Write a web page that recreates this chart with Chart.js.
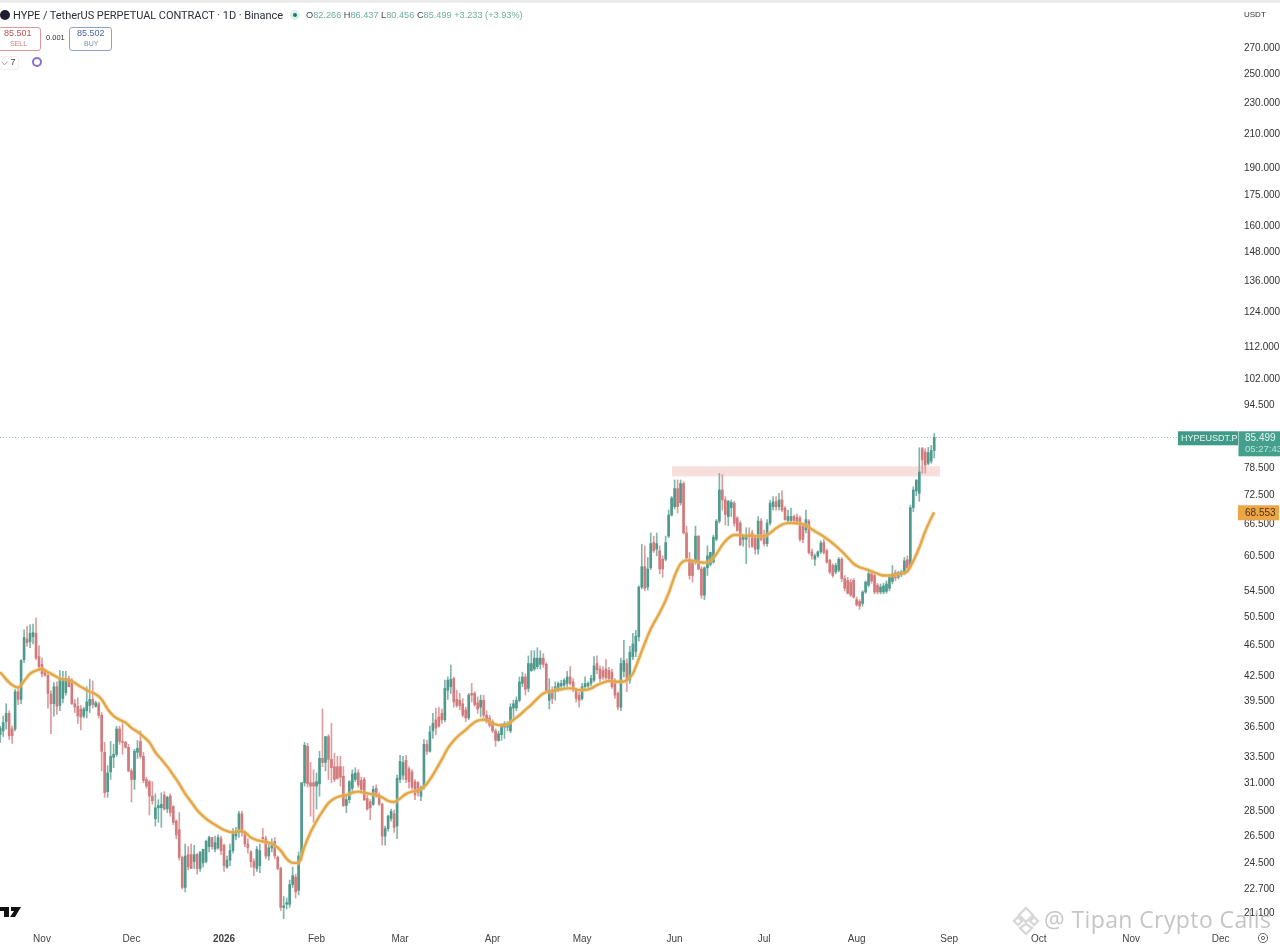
<!DOCTYPE html>
<html><head><meta charset="utf-8">
<script src="https://cdn.jsdelivr.net/npm/chart.js@4"></script>
<style>
html,body{margin:0;padding:0;background:#fff;overflow:hidden}
#wrap{position:relative;width:1280px;height:945px;overflow:hidden;font-family:"Liberation Sans",Arial,sans-serif}
canvas{position:absolute;left:0;top:0}
.t{position:absolute;white-space:nowrap;line-height:1}
.box{position:absolute;background:#fff;border-radius:3px;box-sizing:border-box}
</style></head><body>
<div id="wrap">
<canvas id="c" width="1280" height="945"></canvas>
<div style="position:absolute;left:0;top:0;width:1280px;height:3px;background:#ececec"></div>
<div style="position:absolute;left:0;top:10px;width:10px;height:10px;border-radius:50%;background:#1c2030"></div>
<div class="t" style="left:13px;top:9.5px;font-family:Roboto;font-size:11px;color:#2a2e39;letter-spacing:-.06px" id="title">HYPE / TetherUS PERPETUAL CONTRACT · 1D · Binance</div>
<div style="position:absolute;left:290px;top:10px;width:10px;height:10px;border-radius:50%;background:#dff1ec"></div>
<div style="position:absolute;left:293px;top:13px;width:4px;height:4px;border-radius:50%;background:#1f7a68"></div>
<div class="t" style="left:306px;top:10.5px;font-size:9.2px;color:#6fae9f"><span style="color:#3a4a50">O</span>82.266 <span style="color:#3a4a50">H</span>86.437 <span style="color:#3a4a50">L</span>80.456 <span style="color:#3a4a50">C</span>85.499 +3.233 (+3.93%)</div>
<div class="box" style="left:-2px;top:27px;width:43px;height:24px;border:1px solid #dc9a9a"></div>
<div class="t" style="left:4px;top:29px;font-size:9px;color:#b8504f">85.501</div>
<div class="t" style="left:10px;top:40px;font-size:7px;color:#c67b7a">SELL</div>
<div class="t" style="left:46px;top:34px;font-size:7.5px;color:#333">0.001</div>
<div class="box" style="left:69px;top:27px;width:43px;height:24px;border:1px solid #8ea3c9"></div>
<div class="t" style="left:77px;top:29px;font-size:9px;color:#4a64a0">85.502</div>
<div class="t" style="left:84px;top:40px;font-size:7px;color:#7e8fb5">BUY</div>
<div class="box" style="left:-2px;top:56px;width:21px;height:14px;border:1px solid #eeeeee"></div>
<div class="t" style="left:1px;top:58px;font-size:9px;color:#444">⌵ 7</div>
<div style="position:absolute;left:32px;top:57px;width:6px;height:6px;border:2px solid #8a6fd0;border-radius:50%"></div>
<div class="t" style="left:1244px;top:11px;font-size:8px;color:#333">USDT</div>
<svg style="position:absolute;left:0;top:905px" width="22" height="14"><path d="M0 2H9V12H4V6H0Z" fill="#111"/><path d="M11 2H21L15 12H10L14 6H11Z" fill="#111"/></svg>
<svg style="position:absolute;left:1011px;top:906px" width="30" height="30" fill="none" stroke="#d8d8d8" stroke-width="2.4"><path d="M15 2L22 9L15 16L8 9Z"/><path d="M7 11L11 15L7 19L3 15Z"/><path d="M23 11L27 15L23 19L19 15Z"/><path d="M15 18L21 22L15 28L9 22Z"/></svg>
<div class="t" style="left:1044px;top:908px;font-family:'Open Sans',sans-serif;font-size:23px;color:rgba(140,140,140,.5);letter-spacing:.4px">@ Tipan Crypto Calls</div>
<svg style="position:absolute;left:1257px;top:932px" width="12" height="12" fill="none" stroke="#666"><circle cx="6" cy="6" r="4.6"/><circle cx="6" cy="6" r="1.6"/></svg>
</div>
<script>
const yTickValues=[270,250,230,210,190,175,160,148,136,124,112,102,94.5,78.5,72.5,66.5,60.5,54.5,50.5,46.5,42.5,39.5,36.5,33.5,31,28.5,26.5,24.5,22.7,21.1];
const monthDays=[14,44,75,106,134,165,195,226,256,287,318,348,379,409];
const monthLabels=["Nov","Dec","2026","Feb","Mar","Apr","May","Jun","Jul","Aug","Sep","Oct","Nov","Dec"];
const opens=[
35.6,36.0,37.0,37.9,36.2,36.2,40.4,39.5,44.4,47.2,
46.8,47.5,48.0,44.8,43.8,43.0,42.4,40.1,39.0,41.0,
38.8,39.6,40.3,42.0,41.8,39.0,38.7,38.4,37.6,38.2,
38.8,39.5,38.7,39.0,37.7,33.8,30.1,31.9,33.3,33.6,
36.2,34.9,34.8,34.3,32.0,31.2,33.8,34.9,33.4,31.2,
31.0,29.7,27.8,28.7,28.7,29.8,28.6,29.7,28.8,27.6,
26.9,24.8,22.7,25.0,25.0,24.5,25.0,24.0,24.4,24.5,
25.6,26.3,25.4,25.5,26.2,25.7,24.1,24.6,25.3,26.4,
26.7,28.2,26.7,25.8,25.2,24.5,24.0,24.2,26.3,26.2,
24.9,25.5,26.0,24.8,24.0,21.4,21.6,21.6,22.9,23.4,
22.5,24.9,30.9,34.4,30.9,30.9,30.6,30.8,33.2,32.8,
35.4,33.1,32.4,32.4,32.4,31.5,28.9,29.4,30.4,31.2,
31.8,31.1,31.2,29.5,29.2,29.0,30.4,29.8,29.0,26.4,
27.0,27.8,28.2,27.2,31.2,31.6,33.0,32.2,31.9,31.0,
30.9,29.7,30.5,34.6,33.9,36.0,37.2,37.5,37.9,37.2,
40.6,41.0,42.0,39.5,39.4,39.0,38.3,37.4,40.2,40.2,
39.1,38.6,39.4,37.7,37.4,37.0,36.0,35.0,35.6,36.4,
36.4,36.0,38.5,38.5,39.4,41.4,42.2,40.8,43.0,43.2,
43.5,43.8,44.6,43.8,39.4,40.6,40.4,40.8,41.1,41.2,
41.4,42.2,41.6,40.6,40.0,39.6,41.0,41.1,41.4,41.8,
43.9,43.2,43.0,43.2,43.0,42.8,41.8,40.2,38.6,42.9,
43.9,41.8,44.8,45.5,47.5,55.0,58.4,55.0,58.2,62.7,
61.5,61.2,59.7,59.7,63.9,68.0,69.7,73.5,70.5,74.6,
64.5,59.7,59.2,59.2,63.9,58.0,53.7,58.2,58.8,59.2,
63.3,66.8,73.2,71.1,67.7,69.5,70.4,67.4,66.4,63.3,
63.3,64.1,64.5,63.6,61.5,66.8,64.1,62.5,66.4,69.7,
70.7,69.7,71.1,69.4,66.9,66.9,67.7,67.5,67.4,65.8,
65.1,66.8,61.0,59.7,60.3,61.0,62.7,61.2,59.5,58.6,
57.5,57.8,59.7,56.4,56.1,55.8,56.1,53.0,52.7,52.4,
54.2,55.3,57.2,56.9,55.3,54.2,54.2,54.3,54.8,55.9,
57.4,56.6,57.0,57.2,59.6,58.5,69.5,73.0,72.5,82.7,
81.9,79.2,79.7,82.266];
const highs=[
36.5,37.6,39.0,38.2,36.5,40.7,41.0,44.4,48.5,49.0,
49.2,49.3,50.2,46.3,44.6,43.2,42.8,40.5,41.5,41.6,
43.0,42.9,42.9,42.3,42.0,39.5,39.7,38.8,38.6,41.0,
41.9,41.7,39.3,39.2,38.0,34.8,32.5,34.9,34.6,36.5,
36.5,36.9,34.9,34.6,32.2,34.1,35.0,36.0,33.8,31.4,
31.1,31.0,29.9,29.4,30.0,30.1,29.7,29.9,28.9,27.7,
28.3,24.9,25.8,25.6,25.8,25.7,25.1,25.2,25.4,26.1,
26.4,26.3,26.4,26.5,26.4,25.8,24.9,25.8,27.0,27.1,
28.4,28.4,26.8,26.2,25.3,24.7,25.6,25.8,27.0,26.4,
25.8,26.2,26.3,24.9,24.1,22.1,22.0,23.2,24.1,23.6,
25.2,30.9,34.8,34.7,32.8,32.1,31.8,33.9,38.4,35.4,
35.6,36.8,33.7,33.4,33.4,32.4,29.7,31.1,32.1,32.3,
32.1,31.4,31.4,29.8,29.4,30.6,30.7,30.0,29.1,27.2,
28.1,28.6,28.5,31.6,33.5,33.4,33.5,32.4,32.1,31.2,
31.0,30.6,35.1,35.0,36.5,37.9,38.5,38.6,38.4,41.8,
42.2,43.7,42.2,40.6,40.2,39.6,38.6,40.2,41.4,40.4,
39.8,40.0,40.0,38.2,37.7,37.2,36.2,36.0,36.8,37.0,
37.0,39.0,39.4,39.8,42.2,42.8,42.6,44.9,45.6,45.6,
46.0,45.6,45.2,44.0,42.0,41.0,41.6,41.6,41.8,42.0,
42.9,43.5,42.0,40.8,40.4,41.4,42.2,41.6,42.4,44.8,
44.9,43.6,43.5,44.4,43.4,43.2,42.0,40.4,44.6,47.0,
44.5,46.2,48.0,48.4,55.2,62.4,62.1,60.0,64.5,63.9,
64.5,62.1,60.3,63.9,69.0,71.8,75.4,75.4,75.4,75.0,
65.8,60.9,59.7,65.8,64.0,58.4,58.4,62.1,60.9,64.1,
67.1,76.9,76.6,71.8,71.0,71.1,70.8,67.7,66.8,64.1,
65.5,65.5,65.0,64.0,67.7,67.3,65.0,67.1,71.0,71.8,
71.8,72.5,73.0,69.7,69.0,69.4,68.0,68.2,67.8,66.4,
69.0,67.1,61.5,60.6,61.2,63.0,63.3,61.5,59.7,58.9,
59.0,60.0,60.0,56.9,56.6,56.3,56.4,53.4,53.0,54.4,
56.0,58.0,57.6,57.2,55.6,55.5,55.6,56.0,57.0,58.6,
57.8,57.6,57.8,60.0,60.3,70.0,73.9,75.4,82.9,83.0,
82.7,83.0,83.5,86.437];
const lows=[
34.8,35.4,36.2,35.1,34.7,36.0,38.9,39.0,44.0,46.2,
46.0,46.5,44.4,43.0,42.2,42.3,38.5,35.7,37.6,37.8,
38.2,39.1,40.0,41.0,38.9,38.0,36.8,36.1,37.4,37.4,
38.0,38.5,38.6,37.4,32.0,29.6,29.6,31.2,32.3,33.4,
34.6,33.6,34.2,31.9,29.2,30.3,33.2,33.2,30.9,30.4,
28.1,29.0,27.2,27.5,27.1,28.5,28.3,28.0,27.3,26.2,
24.6,22.6,22.4,23.9,24.0,24.0,23.6,23.8,24.1,24.4,
25.2,25.4,25.2,25.4,25.0,23.8,24.0,24.2,25.1,26.1,
26.3,26.4,25.6,25.1,24.1,23.5,23.8,23.7,25.9,24.7,
24.6,25.2,24.7,23.9,21.2,20.7,21.3,21.4,22.7,22.0,
22.2,24.6,30.6,30.5,28.0,27.5,28.6,29.7,32.4,32.0,
31.2,30.9,31.0,31.2,30.6,28.8,28.3,29.1,30.0,31.0,
30.5,30.0,29.3,28.5,27.7,28.9,29.6,28.9,25.7,25.7,
26.8,27.6,26.7,26.2,30.9,31.2,30.9,30.4,30.3,29.4,
29.7,29.3,30.3,33.6,33.8,35.2,35.6,36.4,36.8,37.0,
39.5,40.2,38.6,38.6,38.3,37.5,37.0,37.2,39.2,38.7,
37.9,37.5,37.4,36.8,36.4,35.8,34.4,34.9,35.0,35.2,
36.0,35.8,37.4,38.2,39.2,41.0,40.0,40.4,42.9,43.0,
43.2,43.2,43.4,40.5,38.4,39.0,39.4,40.4,40.6,40.9,
41.0,41.2,40.4,39.2,38.6,39.4,40.6,40.8,41.1,41.6,
42.6,41.6,41.9,41.9,41.6,40.8,39.6,38.3,38.2,42.2,
40.4,41.4,44.4,44.8,46.9,54.7,54.4,54.5,57.9,60.9,
60.3,57.2,56.6,59.4,63.6,67.8,69.2,68.4,70.0,64.3,
59.7,56.3,55.8,58.8,57.9,53.2,53.0,56.9,58.5,59.0,
63.0,66.4,69.0,66.0,65.9,67.7,65.8,64.8,62.1,62.0,
58.9,61.8,61.8,60.6,60.6,63.0,62.1,62.0,66.0,69.0,
69.0,69.0,68.6,67.0,66.5,66.4,66.2,66.2,62.9,62.7,
64.5,60.6,59.7,58.6,60.0,60.7,60.6,59.0,57.2,56.6,
57.2,57.5,55.9,54.4,53.9,53.5,53.2,52.0,51.5,52.0,
54.0,55.0,55.6,53.9,53.9,53.9,53.9,54.0,54.4,55.5,
56.0,56.3,56.7,57.0,57.5,58.2,68.7,72.0,70.8,76.9,
76.9,78.8,79.2,80.456];
const closes=[
36.3,36.9,37.9,35.5,35.5,40.4,39.5,44.3,47.4,46.7,
48.0,48.1,44.6,43.5,42.6,42.4,40.2,39.0,41.0,38.7,
42.0,41.9,42.0,41.0,39.0,38.6,37.6,37.5,38.4,39.2,
39.5,38.9,39.1,37.7,33.9,30.0,31.8,33.4,33.6,36.2,
34.9,34.8,34.3,32.0,31.2,33.9,34.2,33.4,31.1,30.6,
29.7,29.3,28.7,28.9,29.0,28.6,29.6,28.3,27.5,26.5,
24.8,22.7,24.9,24.1,24.0,25.0,24.0,25.2,25.4,26.0,
26.3,25.6,25.9,26.3,25.3,24.2,24.6,25.3,26.7,26.7,
28.2,26.7,25.8,25.5,24.5,24.1,25.4,25.3,26.2,24.9,
25.5,25.7,24.9,24.0,21.4,21.5,21.7,22.9,23.5,22.4,
24.9,30.9,34.5,30.8,30.6,30.6,31.0,33.2,32.8,35.4,
33.1,32.3,31.2,31.3,31.4,28.9,29.4,31.0,31.7,31.8,
30.7,30.3,29.4,28.6,28.7,30.3,29.8,29.0,26.4,27.0,
28.0,28.4,27.1,31.3,32.9,32.8,31.2,31.0,30.5,29.8,
30.0,30.5,34.6,33.9,35.9,36.8,36.3,36.5,37.2,40.8,
41.8,41.9,39.2,38.8,38.8,37.7,37.4,40.0,40.0,38.9,
38.4,39.4,37.7,37.0,36.6,36.0,35.0,35.7,36.5,36.8,
36.8,38.6,39.0,39.4,41.6,42.2,40.7,43.9,43.9,44.6,
44.6,44.6,43.8,40.5,40.6,39.6,41.0,41.4,41.4,41.8,
42.2,41.4,40.6,39.6,39.4,41.0,41.4,41.4,42.0,43.6,
43.1,42.0,42.2,42.1,42.0,41.0,40.0,38.6,43.9,44.3,
41.8,45.4,46.5,47.6,55.0,58.4,54.8,58.0,62.5,61.2,
62.5,58.0,58.0,62.7,68.0,71.5,73.5,69.7,74.6,64.5,
59.9,56.9,56.9,63.9,58.0,53.7,58.2,60.3,60.9,63.7,
66.8,73.2,71.1,68.1,70.8,70.6,66.4,65.0,62.3,63.9,
64.1,63.8,62.0,61.5,66.8,63.3,62.5,66.4,70.4,70.7,
69.7,71.1,69.0,67.1,67.7,67.7,66.9,66.7,63.3,63.3,
67.1,60.9,60.3,60.3,61.0,62.6,60.9,59.2,57.5,56.9,
58.6,59.7,56.4,54.8,54.0,53.7,53.4,52.2,52.0,54.2,
55.8,57.2,56.0,54.2,54.2,55.0,55.2,55.5,56.6,57.2,
56.5,57.4,57.5,59.4,58.2,69.5,73.2,75.4,77.2,80.0,
78.8,81.7,82.266,85.499];
// moving average read at every second candle, plus the last candle
const movingAverage=[
42.8,41.9,41.2,40.9,41.7,42.6,43,43.2,42.8,42.4,
42,41.9,41.7,41.2,40.8,40.4,40.1,39.5,38.4,37.6,
37.2,36.9,36.3,35.9,35.4,34.8,33.8,33.1,32.4,31.6,
30.8,29.9,29.2,28.5,28,27.6,27.3,27,26.8,26.7,
26.8,26.7,26.3,26.1,26,25.9,25.7,25.3,24.7,24.4,
24.4,25.6,26.7,27.6,28.4,29.1,29.5,29.7,29.8,30,
30.1,30,29.9,29.8,29.6,29.3,29.2,29.5,29.9,30.1,
30.2,30.5,31.2,32.1,33.1,34.2,35,35.6,36.1,36.7,
37.1,37.2,37,36.7,36.6,36.7,37.2,37.7,38.3,38.9,
39.6,40.2,40.4,40.6,40.7,40.8,40.8,40.6,40.6,40.8,
41.2,41.5,41.7,41.6,41.6,41.8,42.6,44.5,46.6,48.6,
50.2,51.9,54,56.8,58.9,59.5,59.4,59.2,59.1,59.4,
60.6,62.3,63.5,64.1,64.1,64,64,63.9,63.9,64.5,
65.4,66.1,66.4,66.4,66.3,66,65.2,64.5,63.8,63,
62.1,61.1,60,58.9,58.3,58,57.6,57.2,56.9,56.9,
57,57.2,57.6,59.4,61.8,64.8,67.4,68.553];
const lastPrice=85.499, maLast=68.553;
const zoneStart=225.1, zoneEnd=314.9, zoneTop=78.5, zoneBottom=76.2;
const xMin=-0.07, xMax=414.8, yMin=20.32, yMax=310.1;

const green='#4f9a8c', red='#d27a7c', greenWick='#7fb5aa', redWick='#dd9c9d';
const isUp=i=>closes[i]>=opens[i];
const wickData=closes.map((_,i)=>({x:i,y:[lows[i],highs[i]]}));
const bodyData=closes.map((_,i)=>({x:i,y:[Math.min(opens[i],closes[i]),Math.max(opens[i],closes[i])]}));
const barColors=closes.map((_,i)=>isUp(i)?green:red);
const wickColors=closes.map((_,i)=>isUp(i)?greenWick:redWick);
const maData=movingAverage.map((v,k)=>({x:Math.min(2*k,closes.length-1),y:v}));

const overlay={id:'overlay',
 beforeDatasetsDraw(ch){
  const {ctx,scales:{x,y}}=ch;
  ctx.save();
  ctx.fillStyle='#f8dedd';
  const t=y.getPixelForValue(zoneTop),b=y.getPixelForValue(zoneBottom);
  ctx.fillRect(x.getPixelForValue(zoneStart),t,x.getPixelForValue(zoneEnd)-x.getPixelForValue(zoneStart),b-t);
  ctx.strokeStyle='#a9c4be';ctx.lineWidth=1;ctx.setLineDash([1,2]);
  const py=Math.round(y.getPixelForValue(lastPrice))+.5;
  ctx.beginPath();ctx.moveTo(0,py);ctx.lineTo(1178,py);ctx.stroke();
  ctx.restore();
 },
 afterDraw(ch){
  const {ctx,scales:{y}}=ch;
  const py=y.getPixelForValue(lastPrice), my=y.getPixelForValue(maLast);
  ctx.save();
  ctx.fillStyle='#3f9a88';ctx.fillRect(1178,py-6,60,14);
  ctx.fillStyle='#449f8d';ctx.fillRect(1238.5,py-6,42,25);
  ctx.font='9px "Liberation Sans"';ctx.textBaseline='middle';ctx.textAlign='left';
  ctx.fillStyle='#e8f5f2';
  ctx.fillText('HYPEUSDT.P',1181,py+1);
  ctx.font='10px "Liberation Sans"';ctx.fillText('85.499',1245,py+1);
  ctx.font='9.5px "Liberation Sans"';ctx.fillStyle='#bfe3da';ctx.fillText('05:27:43',1245,py+12);
  ctx.fillStyle='#eea548';ctx.fillRect(1238,my-7,41,15);
  ctx.fillStyle='#4a3510';ctx.font='10px "Liberation Sans"';ctx.fillText('68.553',1245,my+.5);
  ctx.restore();
 }};

new Chart(document.getElementById('c'),{
 type:'bar',
 data:{datasets:[
  {type:'line',data:maData,borderColor:'#e3a748',borderWidth:2.4,pointRadius:0,tension:.4,cubicInterpolationMode:'monotone',order:0},
  {type:'line',data:maData,borderColor:'rgba(240,200,130,.45)',borderWidth:4.5,pointRadius:0,tension:.4,cubicInterpolationMode:'monotone',order:0.5},
  {data:bodyData,backgroundColor:barColors,barThickness:2,minBarLength:1,grouped:false,order:1},
  {data:wickData,backgroundColor:wickColors,barThickness:1,grouped:false,order:2}
 ]},
 plugins:[overlay],
 options:{
  responsive:false,animation:false,devicePixelRatio:1,
  layout:{padding:0},
  plugins:{legend:{display:false},tooltip:{enabled:false}},
  scales:{
   x:{type:'linear',offset:false,min:xMin,max:xMax,bounds:'data',
    grid:{display:false,drawTicks:false},border:{display:false},
    afterBuildTicks:s=>{s.ticks=monthDays.map(v=>({value:v}));},
    afterFit:s=>{s.height=20;s.paddingLeft=0;s.paddingRight=0;},
    ticks:{autoSkip:false,maxRotation:0,padding:8,color:'#444',
     font:c=>c.index===2?{family:'Liberation Sans',size:10,weight:'bold'}:{family:'Liberation Sans',size:10},
     callback:v=>monthLabels[monthDays.indexOf(v)]}},
   y:{type:'logarithmic',position:'right',min:yMin,max:yMax,bounds:'data',
    grid:{display:false,drawTicks:false},border:{display:false},
    afterBuildTicks:s=>{s.ticks=yTickValues.map(v=>({value:v}));},
    afterFit:s=>{s.width=42;s.paddingTop=0;s.paddingBottom=0;},
    ticks:{autoSkip:false,padding:6,labelOffset:1.5,color:'#333',font:{family:'Liberation Sans',size:10},
     callback:v=>v.toFixed(3)}}
  }
 }
});
</script>
</body></html>
